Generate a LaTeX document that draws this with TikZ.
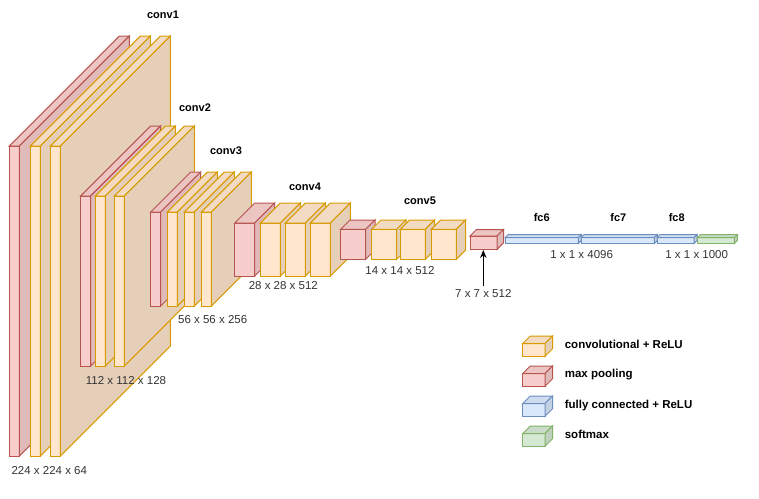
\documentclass[tikz,border=0pt]{standalone}
\usepackage{fontspec}
\setmainfont{Liberation Sans}
\usetikzlibrary{arrows.meta}

\definecolor{convF}{HTML}{FFE6CC}
\definecolor{convT}{HTML}{F2DBC2}
\definecolor{convS}{HTML}{E6CFB8}
\definecolor{convD}{HTML}{D79B00}
\definecolor{poolF}{HTML}{F8CECC}
\definecolor{poolT}{HTML}{ECC4C2}
\definecolor{poolS}{HTML}{DFBAB8}
\definecolor{poolD}{HTML}{B85450}
\definecolor{fcF}{HTML}{DAE8FC}
\definecolor{fcT}{HTML}{CFDCEF}
\definecolor{fcS}{HTML}{C4D1E3}
\definecolor{fcD}{HTML}{6C8EBF}
\definecolor{smF}{HTML}{D5E8D4}
\definecolor{smT}{HTML}{CADCC9}
\definecolor{smS}{HTML}{C0D1BF}
\definecolor{smD}{HTML}{82B366}
\definecolor{dimtxt}{HTML}{333333}

% one layer: x, y (front top-left), width, height, depth, colour prefix
\newcommand{\layer}[6]{%
	\filldraw[fill=#6F, draw=#6D] (#1,#2) rectangle ++(#3,#4);
	\filldraw[fill=#6T, draw=#6D] (#1,#2) -- ++(#5,-#5) -- ++(#3,0) -- ++(-#5,#5) -- cycle;
	\filldraw[fill=#6S, draw=#6D] (#1+#3,#2) -- ++(#5,-#5) -- ++(0,#4) -- ++(-#5,#5) -- cycle;
}

\tikzset{
	lbl/.style={font=\bfseries\fontsize{11}{13}\selectfont},
	dim/.style={text=dimtxt, font=\fontsize{11.5}{13}\selectfont},
	leg/.style={anchor=west, font=\bfseries\fontsize{11.5}{13}\selectfont}
}

\begin{document}
\begin{tikzpicture}[x=1pt, y=-1pt, line width=1pt]
	\useasboundingbox (0,0) rectangle (759,498);
	
	% conv1
	\layer{9.3}{146}{10}{310}{110}{pool}
	\layer{30.3}{146}{10}{310}{110}{conv}
	\layer{50.3}{146}{10}{310}{110}{conv}
	
	% conv2
	\layer{80.7}{196}{10}{170}{70}{pool}
	\layer{95.3}{196}{10}{170}{70}{conv}
	\layer{114.3}{196}{10}{170}{70}{conv}
	
	% conv3
	\layer{150.7}{212}{10}{94}{40}{pool}
	\layer{167.3}{212}{10}{94}{40}{conv}
	\layer{184.3}{212}{10}{94}{40}{conv}
	\layer{201.3}{212}{10}{94}{40}{conv}
	
	% conv4
	\layer{234.7}{223}{20}{53}{20}{pool}
	\layer{260.3}{223}{20}{53}{20}{conv}
	\layer{285.3}{223}{20}{53}{20}{conv}
	\layer{310.3}{223}{20}{53}{20}{conv}
	
	% conv5
	\layer{340.7}{229.3}{25}{30}{9.3}{pool}
	\layer{371.7}{229.3}{25}{30}{9.3}{conv}
	\layer{400.3}{229.3}{25}{30}{9.3}{conv}
	\layer{431.3}{229.3}{25}{30}{9.3}{conv}
	
	% last pooling
	\layer{470}{236}{27}{13.3}{6.5}{pool}
	\coordinate (PB) at (483.3,250);
	
	% fully connected
	\layer{505}{237.7}{73.3}{5.8}{3}{fc}
	\layer{581}{237.7}{73.3}{5.8}{3}{fc}
	\layer{657}{237.7}{37}{5.8}{3}{fc}
	\layer{697.3}{237.7}{37}{5.8}{3}{sm}
	
	\node[lbl] (C1) at (163,15) {conv1};
	\node[lbl] (C2) at (195,107.3) {conv2};
	\node[lbl] (C3) at (226,150.7) {conv3};
	\node[lbl] (C4) at (305,186.7) {conv4};
	\node[lbl] (C5) at (420,200.7) {conv5};
	\node[lbl] (F6) at (541.7,217.3) {fc6};
	\node[lbl] (F7) at (618.3,217.3) {fc7};
	\node[lbl] (F8) at (676.7,217.3) {fc8};
	
	\node[dim] (D1) at (49.3,470.7) {224 x 224 x 64};
	\node[dim] (D2) at (126,380.7) {112 x 112 x 128};
	\node[dim] (D3) at (212.7,319.3) {56 x 56 x 256};
	\node[dim] (D4) at (283.3,286) {28 x 28 x 512};
	\node[dim] (D5) at (400,270.7) {14 x 14 x 512};
	\node[dim] (D6) at (483.3,294) {7 x 7 x 512};
	\node[dim] (D7) at (581.7,254.3) {1 x 1 x 4096};
	\node[dim] (D8) at (696.7,254.3) {1 x 1 x 1000};
	
	\draw[-{Stealth[length=8pt,width=6.5pt]}] (D6) -- (PB);
	
	% legend
	\layer{522.7}{343.5}{22.3}{12.7}{7.5}{conv}
	\layer{522.7}{373.5}{22.3}{12.7}{7.5}{pool}
	\layer{522.7}{403.5}{22.3}{12.7}{7.5}{fc}
	\layer{522.7}{433.5}{22.3}{12.7}{7.5}{sm}
	\node[leg] (L1) at (561,344.3) {convolutional + ReLU};
	\node[leg] (L2) at (561,374.3) {max pooling};
	\node[leg] (L3) at (561,405.7) {fully connected + ReLU};
	\node[leg] (L4) at (561,434) {softmax};
	
\end{tikzpicture}
\end{document}
